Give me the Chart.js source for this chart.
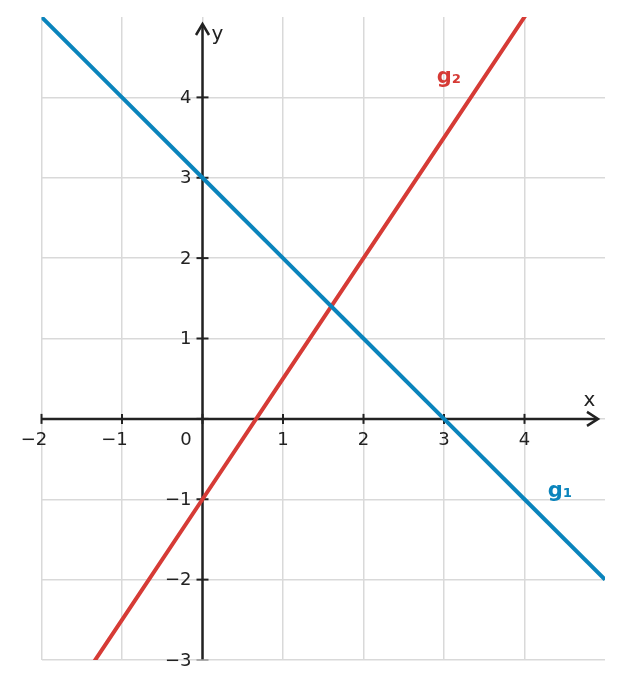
<!DOCTYPE html>
<html>
<head>
<meta charset="utf-8">
<script src="https://cdn.jsdelivr.net/npm/chart.js@4/dist/chart.umd.min.js"></script>
<style>
  html, body { margin: 0; padding: 0; background: #ffffff; }
  #wrap { width: 622px; height: 689px; position: relative; }
</style>
</head>
<body>
<div id="wrap"><canvas id="c" width="622" height="689"></canvas></div>
<script>
// ---- data ----
const xValues = [-2, -1, 0, 1, 2, 3, 4, 5];
const g1Values = [5, 4, 3, 2, 1, 0, -1, -2];
const g2Values = [-4, -2.5, -1, 0.5, 2, 3.5, 5, 6.5];
const seriesNames = ['g\u2081', 'g\u2082'];
const xTickValues = [-2, -1, 1, 2, 3, 4];
const xTickLabels = ['\u22122', '\u22121', '1', '2', '3', '4'];
const yTickValues = [-3, -2, -1, 1, 2, 3, 4];
const yTickLabels = ['\u22123', '\u22122', '\u22121', '1', '2', '3', '4'];
const originLabel = '0';
const axisTitles = ['x', 'y'];
const xRange = [-2, 5];
const yRange = [-3, 5];

// ---- style ----
const BLUE = '#0a84bc';
const RED = '#d63b36';
const AXIS = '#222222';
const GRID = '#d9d9d9';
const FONT = '"DejaVu Sans", sans-serif';
const labelAnchors = [{ x: 4.29, y: -0.97 }, { x: 2.91, y: 4.18 }];

const toPoints = (xs, ys) => xs.map((x, i) => ({ x: x, y: ys[i] }));

const axesPlugin = {
  id: 'axesPlugin',
  beforeDatasetsDraw(chart) {
    const ctx = chart.ctx;
    const xs = chart.scales.x, ys = chart.scales.y;
    const x0 = xs.getPixelForValue(0), y0 = ys.getPixelForValue(0);
    ctx.save();
    ctx.strokeStyle = AXIS;
    ctx.fillStyle = AXIS;
    ctx.lineWidth = 2.5;
    ctx.lineCap = 'butt';
    // x axis
    const xStart = xs.getPixelForValue(xRange[0]);
    const xTip = xs.right - 7;
    ctx.beginPath(); ctx.moveTo(xStart, y0); ctx.lineTo(xTip - 1, y0); ctx.stroke();
    // y axis
    const yStart = ys.getPixelForValue(yRange[0]);
    const yTip = ys.top + 7;
    ctx.beginPath(); ctx.moveTo(x0, yStart); ctx.lineTo(x0, yTip + 1); ctx.stroke();
    // arrows
    ctx.lineJoin = 'miter';
    ctx.beginPath();
    ctx.moveTo(xTip - 11, y0 - 7); ctx.lineTo(xTip, y0); ctx.lineTo(xTip - 11, y0 + 7);
    ctx.stroke();
    ctx.beginPath();
    ctx.moveTo(x0 - 6.5, yTip + 11); ctx.lineTo(x0, yTip); ctx.lineTo(x0 + 6.5, yTip + 11);
    ctx.stroke();
    // ticks
    ctx.lineWidth = 2;
    xTickValues.concat([0]).forEach(v => {
      const px = xs.getPixelForValue(v);
      ctx.beginPath(); ctx.moveTo(px, y0 - 5); ctx.lineTo(px, y0 + 5); ctx.stroke();
    });
    yTickValues.concat([0]).forEach(v => {
      const py = ys.getPixelForValue(v);
      ctx.strokeStyle = v === yRange[0] ? '#9a9a9a' : AXIS;
      ctx.lineWidth = v === yRange[0] ? 1.5 : 2;
      ctx.beginPath(); ctx.moveTo(x0 - 6, py); ctx.lineTo(x0 + 6, py); ctx.stroke();
    });
    // tick labels
    ctx.font = '18px ' + FONT;
    ctx.fillStyle = AXIS;
    ctx.textBaseline = 'alphabetic';
    xTickValues.forEach((v, i) => {
      const px = xs.getPixelForValue(v);
      const lbl = xTickLabels[i];
      const digits = lbl.replace('\u2212', '');
      const dw = ctx.measureText(digits).width;
      ctx.textAlign = 'right';
      ctx.fillText(lbl, px + dw / 2, y0 + 26);
    });
    ctx.textAlign = 'center';
    ctx.fillText(originLabel, x0 - 16.5, y0 + 26);
    ctx.textAlign = 'right';
    yTickValues.forEach((v, i) => {
      const py = ys.getPixelForValue(v);
      ctx.fillText(yTickLabels[i], x0 - 11, py + 5.5);
    });
    // axis titles
    ctx.font = '20px ' + FONT;
    ctx.textAlign = 'center';
    ctx.fillText(axisTitles[0], xs.right - 15.5, y0 - 13);
    ctx.textAlign = 'left';
    ctx.fillText(axisTitles[1], x0 + 9, ys.top + 23);
    ctx.restore();
  },
  afterDatasetsDraw(chart) {
    const ctx = chart.ctx;
    const xs = chart.scales.x, ys = chart.scales.y;
    ctx.save();
    ctx.font = 'bold 21px ' + FONT;
    ctx.textAlign = 'left';
    ctx.textBaseline = 'alphabetic';
    const colors = [BLUE, RED];
    seriesNames.forEach((name, i) => {
      ctx.fillStyle = colors[i];
      ctx.fillText(name, xs.getPixelForValue(labelAnchors[i].x), ys.getPixelForValue(labelAnchors[i].y));
    });
    ctx.restore();
  }
};

const gridColor = (maxVal) => (c) => (c.tick && c.tick.value === maxVal) ? 'rgba(0,0,0,0)' : GRID;

new Chart(document.getElementById('c'), {
  type: 'line',
  data: {
    datasets: [
      { label: seriesNames[0], data: toPoints(xValues, g1Values), borderColor: BLUE, borderWidth: 4, pointRadius: 0, tension: 0, fill: false },
      { label: seriesNames[1], data: toPoints(xValues, g2Values), borderColor: RED, borderWidth: 4, pointRadius: 0, tension: 0, fill: false }
    ]
  },
  options: {
    responsive: false,
    animation: false,
    devicePixelRatio: 1,
    layout: { padding: { left: 41.5, right: 17, top: 17, bottom: 29 } },
    plugins: { legend: { display: false }, tooltip: { enabled: false } },
    scales: {
      x: {
        type: 'linear', min: xRange[0], max: xRange[1],
        ticks: { display: false, stepSize: 1 },
        grid: { color: gridColor(xRange[1]), lineWidth: 1.5, drawTicks: false },
        border: { display: false },
        afterFit: (s) => { s.height = 0; }
      },
      y: {
        type: 'linear', min: yRange[0], max: yRange[1],
        ticks: { display: false, stepSize: 1 },
        grid: { color: gridColor(yRange[1]), lineWidth: 1.5, drawTicks: false },
        border: { display: false },
        afterFit: (s) => { s.width = 0; }
      }
    }
  },
  plugins: [axesPlugin]
});
</script>
</body>
</html>
